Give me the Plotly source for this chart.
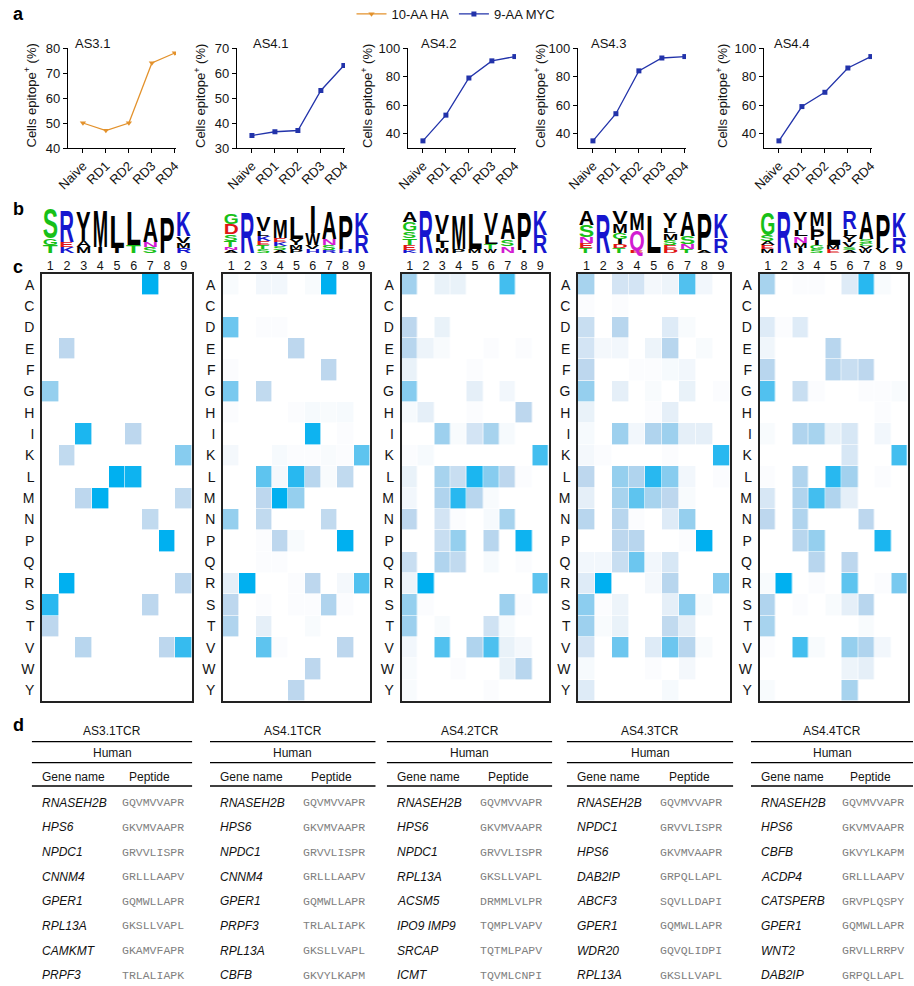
import json
import plotly.graph_objects as go

OFF = 0
W, H = 914, 986
FONT = "Liberation Sans"
MONO = "Liberation Mono"

# ---------------- panel a : line charts ----------------
rounds = ["Naive", "RD1", "RD2", "RD3", "RD4"]
chart_names = ["AS3.1", "AS4.1", "AS4.2", "AS4.3", "AS4.4"]
series_names = ["10-AA HA", "9-AA MYC"]
pct_AS31 = [50, 47, 50, 74, 78]
pct_AS41 = [35, 36.5, 37, 53, 63]
pct_AS42 = [35, 53, 79, 91, 94]
pct_AS43 = [35, 54, 84, 93, 94]
pct_AS44 = [35, 59, 69, 86, 94]
y_ranges = [[40, 80], [30, 70], [30, 100], [30, 100], [30, 100]]
y_ticks = [[40, 50, 60, 70, 80], [30, 40, 50, 60, 70], [40, 60, 80, 100],
           [40, 60, 80, 100], [40, 60, 80, 100]]

# ---------------- panel b : sequence logos (bottom -> top, height in bits) ----------------
logo_AS31 = [
    [("T", 0.8), ("G", 0.7), ("S", 3.0)],
    [("K", 0.6), ("E", 0.5), ("R", 3.2)],
    [("M", 0.6), ("A", 0.6), ("Y", 3.1)],
    [("I", 0.6), ("M", 3.7)],
    [("I", 0.5), ("L", 3.3)],
    [("T", 0.8), ("L", 3.5)],
    [("S", 0.6), ("N", 0.5), ("A", 2.5)],
    [("P", 3.6)],
    [("R", 0.5), ("M", 0.5), ("V", 0.7), ("K", 2.5)],
]
logo_AS41 = [
    [("A", 0.3), ("N", 0.3), ("T", 0.6), ("S", 0.7), ("D", 1.0), ("G", 1.1)],
    [("R", 4.1)],
    [("S", 0.4), ("T", 0.4), ("E", 0.4), ("K", 0.5), ("L", 0.5), ("V", 1.5)],
    [("A", 0.3), ("S", 0.4), ("K", 0.4), ("E", 0.4), ("M", 1.8)],
    [("P", 0.4), ("M", 0.4), ("Y", 0.6), ("L", 2.3)],
    [("H", 0.4), ("V", 0.4), ("W", 1.2), ("I", 2.8)],
    [("R", 0.3), ("S", 0.5), ("N", 0.6), ("A", 2.8)],
    [("H", 0.4), ("P", 3.5)],
    [("R", 1.8), ("K", 2.3)],
]
logo_AS42 = [
    [("K", 0.3), ("E", 0.5), ("T", 0.7), ("S", 0.7), ("G", 0.9), ("A", 1.0)],
    [("R", 4.4)],
    [("M", 0.5), ("I", 0.6), ("L", 0.8), ("V", 2.0)],
    [("P", 0.4), ("M", 3.5)],
    [("M", 0.4), ("L", 3.6)],
    [("W", 0.4), ("T", 0.5), ("L", 0.9), ("V", 2.2)],
    [("N", 0.7), ("S", 0.7), ("A", 2.5)],
    [("I", 0.3), ("P", 3.8)],
    [("R", 1.8), ("K", 2.5)],
]
logo_AS43 = [
    [("T", 0.5), ("E", 0.5), ("N", 0.6), ("S", 1.2), ("A", 1.4)],
    [("R", 4.0)],
    [("T", 0.5), ("D", 0.4), ("I", 0.5), ("G", 0.6), ("M", 0.9), ("V", 1.3)],
    [("E", 0.3), ("Q", 2.0), ("M", 1.7)],
    [("L", 3.8)],
    [("D", 0.4), ("E", 0.4), ("S", 0.5), ("M", 0.7), ("L", 0.5), ("Y", 1.6)],
    [("T", 0.4), ("N", 0.5), ("S", 0.8), ("A", 2.5)],
    [("A", 0.3), ("P", 3.7)],
    [("R", 1.5), ("K", 2.5)],
]
logo_AS44 = [
    [("M", 0.4), ("E", 0.4), ("A", 0.4), ("S", 0.6), ("G", 2.3)],
    [("R", 4.2)],
    [("I", 0.5), ("M", 0.5), ("N", 0.7), ("L", 0.6), ("Y", 1.9)],
    [("S", 0.4), ("G", 0.4), ("I", 0.5), ("P", 1.0), ("L", 0.4), ("M", 1.4)],
    [("E", 0.4), ("M", 0.4), ("L", 3.4)],
    [("A", 0.3), ("S", 0.3), ("V", 0.5), ("Y", 0.6), ("L", 0.7), ("R", 1.8)],
    [("W", 0.4), ("V", 0.3), ("C", 0.3), ("S", 0.4), ("A", 2.8)],
    [("V", 0.5), ("P", 3.5)],
    [("R", 1.6), ("K", 2.5)],
]

# ---------------- panel c : heatmaps (rows = amino acids, cols = positions 1-9) ----------------
amino_acids = ["A", "C", "D", "E", "F", "G", "H", "I", "K", "L",
               "M", "N", "P", "Q", "R", "S", "T", "V", "W", "Y"]
positions = [1, 2, 3, 4, 5, 6, 7, 8, 9]
hm_AS31 = [
    [0, 0, 0, 0, 0, 0, 1.0, 0, 0],
    [0, 0, 0, 0, 0, 0, 0, 0, 0],
    [0, 0, 0, 0, 0, 0, 0, 0, 0],
    [0, 0.3, 0, 0, 0, 0, 0, 0, 0],
    [0, 0, 0, 0, 0, 0, 0, 0, 0],
    [0.45, 0, 0, 0, 0, 0, 0, 0, 0],
    [0, 0, 0, 0, 0, 0, 0, 0, 0],
    [0, 0, 0.9, 0, 0, 0.3, 0, 0, 0],
    [0, 0.28, 0, 0, 0, 0, 0, 0, 0.5],
    [0, 0, 0, 0, 1.0, 0.95, 0, 0, 0],
    [0, 0, 0.3, 1.0, 0, 0, 0, 0, 0.28],
    [0, 0, 0, 0, 0, 0, 0.28, 0, 0],
    [0, 0, 0, 0, 0, 0, 0, 1.0, 0],
    [0, 0, 0, 0, 0, 0, 0, 0, 0],
    [0, 1.0, 0, 0, 0, 0, 0, 0, 0.3],
    [0.85, 0, 0, 0, 0, 0, 0.3, 0, 0],
    [0.3, 0, 0, 0, 0, 0, 0, 0, 0],
    [0, 0, 0.32, 0, 0, 0, 0, 0.3, 0.8],
    [0, 0, 0, 0, 0, 0, 0, 0, 0],
    [0, 0, 0, 0, 0, 0, 0, 0, 0],
]
hm_AS41 = [
    [0.03, 0, 0.06, 0.06, 0, 0.03, 1.0, 0, 0],
    [0, 0, 0, 0, 0, 0, 0, 0, 0],
    [0.6, 0, 0.02, 0.02, 0, 0, 0, 0, 0],
    [0, 0, 0, 0, 0.3, 0, 0, 0, 0],
    [0.02, 0, 0, 0, 0, 0, 0.3, 0, 0],
    [0.55, 0, 0.28, 0, 0, 0, 0, 0, 0],
    [0.02, 0, 0, 0, 0.02, 0.04, 0.03, 0.04, 0],
    [0, 0, 0, 0, 0, 0.95, 0, 0.02, 0],
    [0.05, 0, 0, 0.04, 0.02, 0.02, 0.03, 0.02, 0.65],
    [0, 0, 0.65, 0.05, 0.85, 0.32, 0.03, 0.28, 0],
    [0, 0, 0.3, 1.0, 0.45, 0, 0, 0, 0],
    [0.45, 0, 0.28, 0, 0, 0, 0.28, 0, 0],
    [0, 0, 0.02, 0.3, 0.03, 0, 0, 1.0, 0],
    [0, 0, 0.02, 0.02, 0, 0, 0, 0, 0],
    [0.12, 1.0, 0, 0, 0.02, 0.3, 0, 0.05, 0.7],
    [0.3, 0, 0.02, 0, 0.02, 0.02, 0.35, 0.02, 0],
    [0.35, 0, 0.12, 0, 0, 0.03, 0, 0, 0],
    [0, 0, 0.65, 0.02, 0, 0, 0, 0.3, 0],
    [0, 0, 0, 0, 0, 0.3, 0, 0, 0],
    [0, 0, 0, 0, 0.3, 0, 0, 0, 0],
]
hm_AS42 = [
    [0.4, 0, 0.1, 0.1, 0, 0, 0.75, 0, 0],
    [0, 0, 0, 0, 0, 0, 0, 0, 0],
    [0.3, 0, 0.1, 0, 0, 0, 0, 0, 0],
    [0.32, 0.08, 0.03, 0, 0, 0.02, 0, 0.02, 0],
    [0.1, 0, 0, 0, 0.02, 0, 0, 0, 0],
    [0.5, 0, 0, 0, 0.12, 0, 0.06, 0, 0],
    [0.04, 0.12, 0, 0, 0.02, 0, 0, 0.3, 0],
    [0, 0, 0.42, 0.03, 0.2, 0.38, 0.04, 0, 0],
    [0.02, 0.04, 0, 0, 0, 0, 0, 0, 0.75],
    [0.1, 0, 0.38, 0.25, 0.9, 0.5, 0.3, 0.02, 0],
    [0.06, 0, 0.35, 0.85, 0.32, 0.03, 0, 0, 0],
    [0.3, 0, 0.2, 0.02, 0, 0.04, 0.38, 0, 0],
    [0, 0, 0.25, 0.45, 0, 0.32, 0, 0.95, 0],
    [0.25, 0, 0.35, 0.28, 0, 0.04, 0, 0.02, 0],
    [0.08, 1.0, 0, 0, 0, 0, 0, 0, 0.65],
    [0.45, 0.02, 0, 0, 0, 0, 0.42, 0.02, 0],
    [0.42, 0, 0.03, 0, 0, 0.22, 0.04, 0, 0],
    [0.06, 0, 0.7, 0, 0.35, 0.72, 0.1, 0.05, 0],
    [0.03, 0, 0, 0.02, 0, 0, 0.1, 0.32, 0],
    [0.03, 0, 0, 0, 0, 0.02, 0, 0, 0],
]
hm_AS43 = [
    [0.38, 0, 0.2, 0.2, 0.05, 0.08, 0.7, 0.06, 0],
    [0.02, 0, 0.02, 0, 0, 0, 0, 0, 0],
    [0.25, 0, 0.32, 0, 0, 0.15, 0.03, 0, 0],
    [0.2, 0.05, 0.06, 0, 0.08, 0.32, 0, 0.03, 0],
    [0.3, 0, 0, 0.02, 0.02, 0.04, 0.06, 0, 0],
    [0.45, 0, 0.12, 0, 0.03, 0, 0.1, 0, 0.02],
    [0.1, 0, 0, 0, 0.02, 0.12, 0, 0, 0],
    [0.04, 0, 0.42, 0.06, 0.35, 0.42, 0.12, 0.12, 0],
    [0.05, 0.02, 0, 0, 0, 0.02, 0, 0, 0.85],
    [0.3, 0, 0.45, 0.35, 0.85, 0.5, 0.06, 0, 0.02],
    [0.12, 0, 0.38, 0.65, 0.38, 0.3, 0.03, 0, 0],
    [0.32, 0, 0.32, 0.02, 0, 0.15, 0.45, 0, 0],
    [0, 0, 0.3, 0.32, 0, 0, 0.02, 1.0, 0],
    [0.06, 0.06, 0.25, 0.6, 0.06, 0.18, 0, 0, 0],
    [0.15, 1.0, 0, 0, 0.05, 0.32, 0, 0, 0.5],
    [0.48, 0.02, 0.08, 0, 0, 0.12, 0.48, 0.03, 0],
    [0.42, 0.03, 0.1, 0, 0, 0.28, 0.12, 0, 0],
    [0.2, 0, 0.6, 0, 0.15, 0.6, 0.32, 0.03, 0],
    [0.04, 0, 0, 0, 0.02, 0, 0.05, 0, 0],
    [0.15, 0, 0, 0, 0, 0.04, 0, 0, 0],
]
hm_AS44 = [
    [0.38, 0, 0.02, 0.02, 0, 0.15, 0.85, 0.03, 0],
    [0, 0, 0, 0, 0, 0, 0, 0, 0],
    [0.15, 0.02, 0.15, 0, 0, 0, 0, 0, 0],
    [0.07, 0, 0, 0, 0.32, 0, 0, 0, 0],
    [0.32, 0, 0, 0, 0.32, 0.25, 0.3, 0, 0],
    [0.7, 0, 0.25, 0.02, 0, 0, 0.02, 0.02, 0.03],
    [0, 0, 0, 0, 0, 0, 0, 0.02, 0],
    [0.03, 0, 0.35, 0.38, 0.1, 0.18, 0, 0.06, 0],
    [0, 0, 0, 0, 0, 0.18, 0, 0, 0.75],
    [0.02, 0, 0.35, 0, 0.85, 0.4, 0, 0.02, 0],
    [0.18, 0, 0.35, 0.75, 0.35, 0.12, 0, 0, 0],
    [0.3, 0, 0.35, 0, 0, 0, 0.3, 0, 0],
    [0, 0, 0.32, 0.45, 0, 0, 0, 0.9, 0],
    [0, 0, 0, 0.32, 0, 0.3, 0, 0, 0],
    [0.03, 1.0, 0, 0.02, 0, 0.65, 0, 0.02, 0.55],
    [0.35, 0, 0.02, 0, 0.03, 0.12, 0.32, 0, 0],
    [0.38, 0, 0, 0, 0, 0, 0.03, 0, 0],
    [0.02, 0, 0.75, 0.03, 0, 0.45, 0.35, 0.06, 0],
    [0, 0, 0, 0, 0, 0.08, 0.12, 0, 0],
    [0.03, 0, 0, 0, 0, 0.38, 0, 0, 0],
]

# ---------------- panel d : tables ----------------
table_titles = ["AS3.1TCR", "AS4.1TCR", "AS4.2TCR", "AS4.3TCR", "AS4.4TCR"]
genes_AS31 = ["RNASEH2B", "HPS6", "NPDC1", "CNNM4", "GPER1", "RPL13A", "CAMKMT", "PRPF3"]
peps_AS31 = ["GQVMVVAPR", "GKVMVAAPR", "GRVVLISPR", "GRLLLAAPV", "GQMWLLAPR", "GKSLLVAPL", "GKAMVFAPR", "TRLALIAPK"]
genes_AS41 = ["RNASEH2B", "HPS6", "NPDC1", "CNNM4", "GPER1", "PRPF3", "RPL13A", "CBFB"]
peps_AS41 = ["GQVMVVAPR", "GKVMVAAPR", "GRVVLISPR", "GRLLLAAPV", "GQMWLLAPR", "TRLALIAPK", "GKSLLVAPL", "GKVYLKAPM"]
genes_AS42 = ["RNASEH2B", "HPS6", "NPDC1", "RPL13A", "ACSM5", "IPO9 IMP9", "SRCAP", "ICMT"]
peps_AS42 = ["GQVMVVAPR", "GKVMVAAPR", "GRVVLISPR", "GKSLLVAPL", "DRMMLVLPR", "TQMPLVAPV", "TQTMLPAPV", "TQVMLCNPI"]
genes_AS43 = ["RNASEH2B", "NPDC1", "HPS6", "DAB2IP", "ABCF3", "GPER1", "WDR20", "RPL13A"]
peps_AS43 = ["GQVMVVAPR", "GRVVLISPR", "GKVMVAAPR", "GRPQLLAPL", "SQVLLDAPI", "GQMWLLAPR", "GQVQLIDPI", "GKSLLVAPL"]
genes_AS44 = ["RNASEH2B", "HPS6", "CBFB", "ACDP4", "CATSPERB", "GPER1", "WNT2", "DAB2IP"]
peps_AS44 = ["GQVMVVAPR", "GKVMVAAPR", "GKVYLKAPM", "GRLLLAAPV", "GRVPLQSPY", "GQMWLLAPR", "GRVLLRRPV", "GRPQLLAPL"]

# ---------------- styling / layout constants ----------------
ORANGE = "#E3922C"
BLUE = "#2233AA"
TXT = "#141414"
aa_color = {}
for a in "GSTC":
    aa_color[a] = "#17C017"
for a in "NQ":
    aa_color[a] = "#D21BD2"
for a in "KRH":
    aa_color[a] = "#1616CF"
for a in "DE":
    aa_color[a] = "#E01414"
for a in "AVLIPWFMY":
    aa_color[a] = "#000000"


def px(x):
    return min(1.0, max(0.0, (x - OFF) / W))


def py(y):
    return min(1.0, max(0.0, 1 - (y - OFF) / H))


def ax_key(kind, i):
    return kind + "axis" + ("" if i == 1 else str(i))


def ax_id(kind, i):
    return kind + ("" if i == 1 else str(i))


fig = go.Figure()
layout = dict(width=W, height=H, margin=dict(l=0, r=0, t=0, b=0, pad=0, autoexpand=False),
              paper_bgcolor="white", plot_bgcolor="white",
              font=dict(family=FONT, color=TXT, size=12))
annotations = []
shapes = []

# ---- panel a ----
line_x0 = [68, 237, 408, 578, 764]
line_w = 108
line_top, line_bot = 48, 148
title_dx = [5, 14, 11, 11, 8]
ytitle_dx = [37.5, 37, 41, 38, 42]
all_pct = [pct_AS31, pct_AS41, pct_AS42, pct_AS43, pct_AS44]
for k in range(5):
    i = k + 1
    is_ha = (k == 0)
    fig.add_trace(go.Scatter(
        x=rounds, y=all_pct[k], mode="lines+markers",
        name=series_names[0] if is_ha else series_names[1],
        showlegend=(k in (0, 1)),
        line=dict(color=ORANGE if is_ha else BLUE, width=1.3),
        marker=dict(symbol="triangle-down" if is_ha else "square",
                    size=5.5 if is_ha else 5, color=ORANGE if is_ha else BLUE),
        xaxis=ax_id("x", i), yaxis=ax_id("y", i), hoverinfo="skip"))
    common = dict(showline=True, linecolor="black", linewidth=1.2, ticks="outside",
                  ticklen=4, tickwidth=1.2, tickcolor="black", showgrid=False,
                  zeroline=False, tickfont=dict(size=13, color=TXT))
    layout[ax_key("x", i)] = dict(domain=[px(line_x0[k]), px(line_x0[k] + line_w)],
                                  anchor=ax_id("y", i), range=[-0.65, 4.05],
                                  tickangle=-45, type="category", **common)
    layout[ax_key("y", i)] = dict(domain=[py(line_bot), py(line_top)], anchor=ax_id("x", i),
                                  range=y_ranges[k], tickvals=y_ticks[k], **common)
    annotations.append(dict(text=chart_names[k], xref=ax_id("x", i) + " domain", x=0,
                            xshift=title_dx[k], xanchor="left",
                            yref=ax_id("y", i) + " domain", y=1, yshift=4.5, yanchor="middle",
                            showarrow=False, font=dict(size=13)))
    annotations.append(dict(text="Cells epitope<sup>+</sup> (%)", textangle=-90,
                            xref=ax_id("x", i) + " domain", x=0, xshift=-ytitle_dx[k],
                            xanchor="center", yref=ax_id("y", i) + " domain", y=0.5,
                            yshift=2, yanchor="middle", showarrow=False, font=dict(size=13)))

layout["legend"] = dict(orientation="h", x=px(456), xanchor="center", y=py(14),
                        yanchor="middle", font=dict(size=13), bgcolor="rgba(0,0,0,0)",
                        itemwidth=30, tracegroupgap=0)

# ---- panel c : heatmaps ----
hm_left = [42, 223, 401.5, 578, 759.5]
hm_right = [192, 370, 548.5, 729.5, 907.5]
hm_top, hm_bot = 274, 701
all_hm = [hm_AS31, hm_AS41, hm_AS42, hm_AS43, hm_AS44]
cscale = [[0, "#FFFFFF"], [0.3, "#BDD7EE"], [1, "#00B0F0"]]
for k in range(5):
    i = 6 + k
    fig.add_trace(go.Heatmap(z=all_hm[k], x=positions, y=amino_acids, colorscale=cscale,
                             zmin=0, zmax=1, showscale=False, xgap=0.6, ygap=0.6,
                             xaxis=ax_id("x", i), yaxis=ax_id("y", i), hoverinfo="skip"))
    layout[ax_key("x", i)] = dict(domain=[px(hm_left[k]), px(hm_right[k])], anchor=ax_id("y", i),
                                  range=[0.5, 9.5], side="top", tickvals=positions, ticks="",
                                  showline=True, mirror=True, linecolor="#222", linewidth=1.5,
                                  showgrid=False, zeroline=False, ticklabelstandoff=-3,
                                  tickfont=dict(size=12.5, color=TXT))
    layout[ax_key("y", i)] = dict(domain=[py(hm_bot), py(hm_top)], anchor=ax_id("x", i),
                                  type="category", categoryarray=amino_acids,
                                  autorange="reversed", ticks="", showline=True, mirror=True,
                                  linecolor="#222", linewidth=1.5, showgrid=False,
                                  zeroline=False, ticklabelstandoff=3,
                                  tickfont=dict(size=14, color=TXT))

# ---- panel b : logos ----
logo_top, logo_bot = 203, 253
all_logos = [logo_AS31, logo_AS41, logo_AS42, logo_AS43, logo_AS44]
logo_spec = {}
for k in range(5):
    i = 11 + k
    layout[ax_key("x", i)] = dict(domain=[px(hm_left[k]), px(hm_right[k])], anchor=ax_id("y", i),
                                  range=[0.5, 9.5], visible=False)
    layout[ax_key("y", i)] = dict(domain=[py(logo_bot), py(logo_top)], anchor=ax_id("x", i),
                                  range=[0, 5], visible=False)
    for c, stack in enumerate(all_logos[k]):
        y0 = 0.0
        for letter, h in stack:
            idx = len(annotations)
            fs0 = max(1, min(h * 10 / 0.716, 20))
            annotations.append(dict(text=letter, x=positions[c], y=y0 + h / 2,
                                    xref=ax_id("x", i), yref=ax_id("y", i), showarrow=False,
                                    xanchor="center", yanchor="middle",
                                    font=dict(family=FONT, size=fs0, color=aa_color[letter],
                                              weight=700)))
            logo_spec[idx] = [positions[c], y0, y0 + h, 0.46]
            y0 += h

# ---- panel d : tables ----
tbl_left = [31.7, 210, 386.7, 566.7, 751]
tbl_right = [192.3, 375.7, 552.3, 733.3, 913]
row0_px, row_dy = 802.7, 24.65
tbl_top_px = 720


def row_units(ypx):
    return (ypx - row0_px) / row_dy


layout["yaxis16"] = dict(domain=[0, py(tbl_top_px)], anchor="x16",
                         range=[row_units(OFF + H), row_units(tbl_top_px)], visible=False)
all_genes = [genes_AS31, genes_AS41, genes_AS42, genes_AS43, genes_AS44]
all_peps = [peps_AS31, peps_AS41, peps_AS42, peps_AS43, peps_AS44]
for k in range(5):
    i = 16 + k
    xid = ax_id("x", i)
    layout[ax_key("x", i)] = dict(domain=[px(tbl_left[k]), px(tbl_right[k])], anchor="y16",
                                  range=[0, 1], visible=False)
    for ypx in (741.7, 762.7, 786):
        yl = row_units(ypx)
        shapes.append(dict(type="line", xref=xid, yref="y16", x0=0, x1=1, y0=yl, y1=yl,
                           line=dict(color="black", width=1.3)))
    annotations.append(dict(text=table_titles[k], x=0.5, y=row_units(730.7), xref=xid,
                            yref="y16", showarrow=False, xanchor="center", yanchor="middle",
                            font=dict(size=12)))
    annotations.append(dict(text="Human", x=0.5, y=row_units(753.3), xref=xid, yref="y16",
                            showarrow=False, xanchor="center", yanchor="middle",
                            font=dict(size=12)))
    annotations.append(dict(text="Gene name", x=0.05, y=row_units(776.7), xref=xid, yref="y16",
                            showarrow=False, xanchor="left", yanchor="middle",
                            font=dict(size=12)))
    annotations.append(dict(text="Peptide", x=0.735, y=row_units(776.7), xref=xid, yref="y16",
                            showarrow=False, xanchor="center", yanchor="middle",
                            font=dict(size=12)))
    for r, (g, p) in enumerate(zip(all_genes[k], all_peps[k])):
        annotations.append(dict(text="<i>" + g + "</i>", x=0.05, y=r, xref=xid, yref="y16",
                                showarrow=False, xanchor="left", yanchor="middle",
                                font=dict(size=12, color="#111")))
        annotations.append(dict(text=p, x=0.55, y=r, xref=xid, yref="y16",
                                showarrow=False, xanchor="left", yanchor="middle",
                                font=dict(family=MONO, size=11.5, color="#808080")))

# ---- panel letters ----
for lab, ypx in (("a", 14), ("b", 209), ("c", 267), ("d", 725)):
    annotations.append(dict(text="<b>" + lab + "</b>", xref="paper", yref="paper",
                            x=px(11), y=py(ypx), xanchor="left", yanchor="middle",
                            showarrow=False, font=dict(size=18, color="black")))

layout["annotations"] = annotations
layout["shapes"] = shapes
fig.update_layout(**layout)

js = """
document.body.style.margin = '0px';
document.documentElement.style.overflow = 'hidden';
var gd = document.getElementById('{plot_id}');
var SPEC = __SPEC__;
var CAP = 0.716;
function fitLetters(){
  var fl = gd._fullLayout;
  if (!fl) return;
  var groups = gd.querySelectorAll('g.annotation');
  for (var n = 0; n < groups.length; n++) {
    var g = groups[n];
    var idx = g.getAttribute('data-index');
    var s = SPEC[idx];
    if (!s) continue;
    var a = fl.annotations[+idx];
    var xa = fl['xaxis' + a.xref.slice(1)];
    var ya = fl['yaxis' + a.yref.slice(1)];
    if (!xa || !ya) continue;
    var t = g.querySelector('text');
    if (!t) continue;
    t.removeAttribute('transform');
    var bb = t.getBBox();
    var fs = parseFloat(window.getComputedStyle(t).fontSize);
    var base = parseFloat(t.getAttribute('y'));
    if (isNaN(base)) base = bb.y + 0.905 * fs;
    var cx = xa._offset + xa.l2p(s[0]);
    var colW = xa._offset + xa.l2p(s[0] + s[3]) - cx;
    var B = ya._offset + ya.l2p(s[1]);
    var T = ya._offset + ya.l2p(s[2]);
    var M = t.parentNode.getCTM();
    var sx = 2 * colW / Math.max(bb.width, 0.62 * fs);
    var sy = (B - T) / (CAP * fs);
    var tx = (cx - M.e) - sx * (bb.x + bb.width / 2);
    var ty = (B - M.f) - sy * base;
    t.setAttribute('transform', 'translate(' + tx + ',' + ty + ') scale(' + sx + ',' + sy + ')');
  }
}
fitLetters();
gd.on('plotly_afterplot', fitLetters);
setTimeout(fitLetters, 150);
""".replace("__SPEC__", json.dumps({str(k): v for k, v in logo_spec.items()}))

fig.write_html("out.html", post_script=js, config={"displayModeBar": False})
